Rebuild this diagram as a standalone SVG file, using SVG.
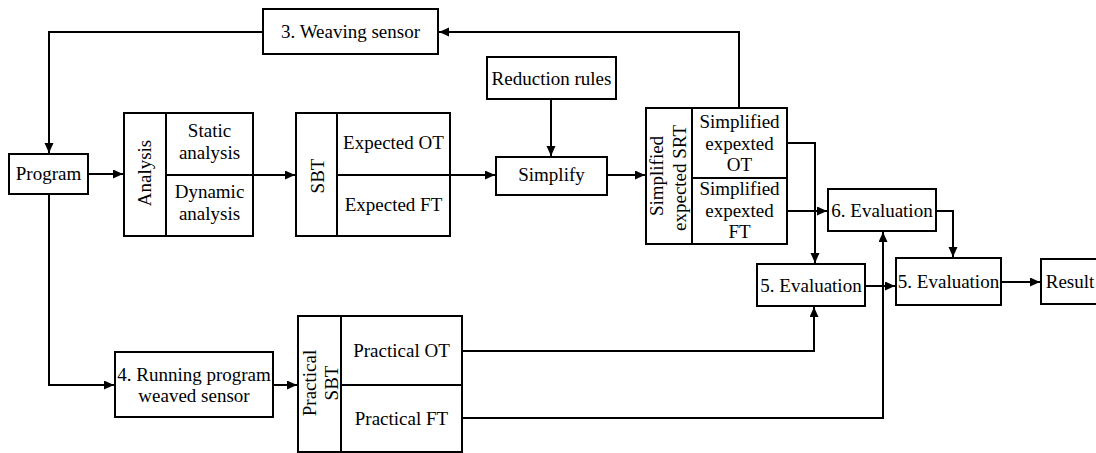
<svg xmlns="http://www.w3.org/2000/svg" width="1096" height="453" viewBox="0 0 1096 453">
  <style>
    .box { fill: #fff; stroke: #000; stroke-width: 2; }
    .div { fill: none; stroke: #000; stroke-width: 2; }
    .t { font-family: "Liberation Serif", "Times New Roman", serif; font-size: 19px; fill: #000; text-anchor: middle; }
    .wire { fill: none; stroke: #000; stroke-width: 2; marker-end: url(#arrow); }
    .line { fill: none; stroke: #000; stroke-width: 2; }
  </style>
  <defs>
    <marker id="arrow" markerUnits="userSpaceOnUse" markerWidth="11" markerHeight="10" refX="10" refY="4.5" orient="auto">
      <path d="M0,0 L10,4.5 L0,9 z" fill="#000"/>
    </marker>
  </defs>
  <rect width="1096" height="453" fill="#fff"/>

  <!-- connectors -->
  <g id="connectors">
    <path class="wire" d="M739,108 V32 H439"/>
    <path class="wire" d="M263,32 H49 V153"/>
    <path class="wire" d="M88,174 H123"/>
    <path class="wire" d="M49,194 V385 H114"/>
    <path class="wire" d="M253,175 H295"/>
    <path class="wire" d="M450,175 H495"/>
    <path class="wire" d="M551,99 V156"/>
    <path class="wire" d="M607,175 H645"/>
    <path class="wire" d="M787,143 H815 V263"/>
    <path class="wire" d="M787,211 H827"/>
    <path class="wire" d="M273,385 H297"/>
    <path class="wire" d="M462,351 H814 V307"/>
    <path class="wire" d="M462,418 H883 V232"/>
    <path class="wire" d="M865,286 H895"/>
    <path class="wire" d="M936,211 H953 V257"/>
    <path class="wire" d="M1001,282 H1040"/>
  </g>

  <!-- nodes -->
  <g id="weaving-sensor">
    <rect class="box" x="263" y="9" width="175" height="45"/>
    <text class="t" x="350.5" y="38">3. Weaving sensor</text>
  </g>

  <g id="program">
    <rect class="box" x="9" y="154" width="79" height="40"/>
    <text class="t" x="48.5" y="180">Program</text>
  </g>

  <g id="analysis">
    <rect class="box" x="124" y="113" width="129" height="123"/>
    <path class="div" d="M166,113 V236 M166,175 H253"/>
    <text class="t" transform="translate(151,173) rotate(-90)">Analysis</text>
    <text class="t" x="209.5" y="137">Static</text>
    <text class="t" x="209.5" y="159">analysis</text>
    <text class="t" x="209.5" y="198">Dynamic</text>
    <text class="t" x="209.5" y="220">analysis</text>
  </g>

  <g id="sbt">
    <rect class="box" x="296" y="113" width="154" height="123"/>
    <path class="div" d="M337,113 V236 M337,175 H450"/>
    <text class="t" transform="translate(324,176) rotate(-90)">SBT</text>
    <text class="t" x="393.5" y="149">Expected OT</text>
    <text class="t" x="393.5" y="211">Expected FT</text>
  </g>

  <g id="reduction-rules">
    <rect class="box" x="487" y="57" width="129" height="42"/>
    <text class="t" x="551.5" y="85">Reduction rules</text>
  </g>

  <g id="simplify">
    <rect class="box" x="496" y="157" width="111" height="38"/>
    <text class="t" x="551.5" y="181">Simplify</text>
  </g>

  <g id="simplified-srt">
    <rect class="box" x="646" y="108" width="141" height="136"/>
    <path class="div" d="M692,108 V244 M692,178 H787"/>
    <text class="t" transform="translate(663,176) rotate(-90)">Simplified</text>
    <text class="t" transform="translate(686,178) rotate(-90)">expected SRT</text>
    <text class="t" x="739.5" y="128">Simplified</text>
    <text class="t" x="739.5" y="150">expexted</text>
    <text class="t" x="739.5" y="171">OT</text>
    <text class="t" x="739.5" y="195">Simplified</text>
    <text class="t" x="739.5" y="217">expexted</text>
    <text class="t" x="739.5" y="238">FT</text>
  </g>

  <g id="evaluation-6">
    <rect class="box" x="828" y="189" width="108" height="42"/>
    <text class="t" x="882" y="217">6. Evaluation</text>
  </g>

  <g id="evaluation-5a">
    <rect class="box" x="757" y="264" width="108" height="42"/>
    <text class="t" x="811" y="292">5. Evaluation</text>
  </g>

  <g id="evaluation-5b">
    <rect class="box" x="896" y="258" width="105" height="47"/>
    <text class="t" x="948.5" y="288">5. Evaluation</text>
  </g>

  <g id="result">
    <rect class="box" x="1041" y="259" width="60" height="45"/>
    <text class="t" x="1070" y="288">Result</text>
  </g>

  <g id="running-program">
    <rect class="box" x="115" y="352" width="158" height="65"/>
    <text class="t" x="194" y="381">4. Running program</text>
    <text class="t" x="194" y="402">weaved sensor</text>
  </g>

  <g id="practical-sbt">
    <rect class="box" x="298" y="316" width="164" height="136"/>
    <path class="div" d="M341,316 V452 M341,385 H462"/>
    <text class="t" transform="translate(316,383) rotate(-90)">Practical</text>
    <text class="t" transform="translate(338,383) rotate(-90)">SBT</text>
    <text class="t" x="401.5" y="357">Practical OT</text>
    <text class="t" x="401.5" y="425">Practical FT</text>
  </g>
</svg>
